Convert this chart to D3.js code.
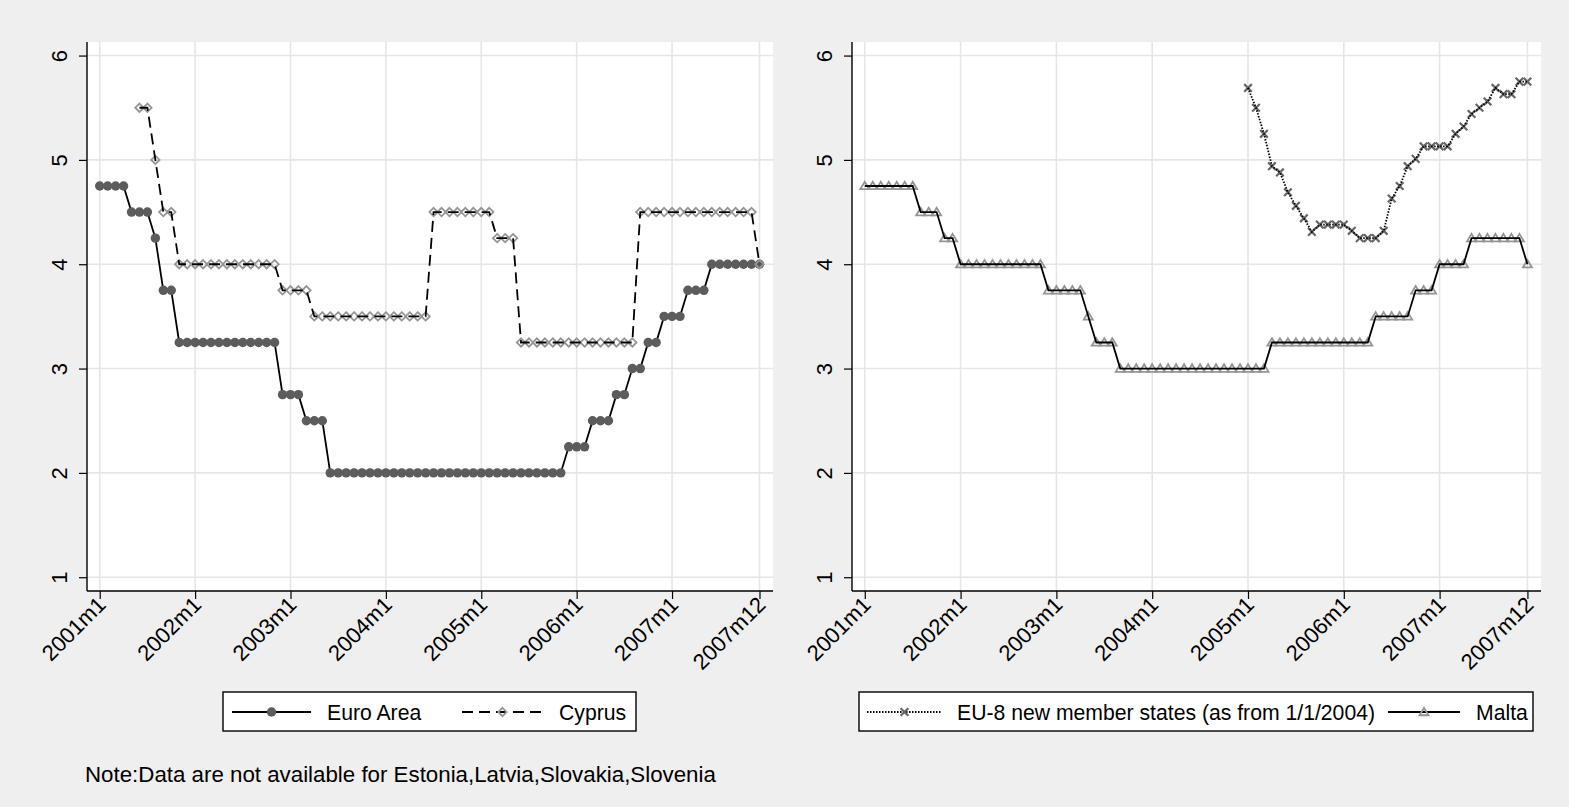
<!DOCTYPE html>
<html><head><meta charset="utf-8">
<script src="https://cdn.jsdelivr.net/npm/d3@7"></script>
<style>
html,body{margin:0;padding:0;background:#efefef;}
svg{display:block;font-family:"Liberation Sans",Arial,sans-serif;}
</style></head>
<body>
<svg id="chart" width="1569" height="807"></svg>
<script>
// ---- data (monthly, 2001m1 .. 2007m12, index 0..83) ----
const tickMonths = [0, 12, 24, 36, 48, 60, 72, 83];
const tickLabels = ["2001m1","2002m1","2003m1","2004m1","2005m1","2006m1","2007m1","2007m12"];
const yTicks = [1, 2, 3, 4, 5, 6];

const euroArea = [
  4.75,4.75,4.75,4.75,4.5,4.5,4.5,4.25,3.75,3.75,3.25,3.25,
  3.25,3.25,3.25,3.25,3.25,3.25,3.25,3.25,3.25,3.25,3.25,2.75,
  2.75,2.75,2.5,2.5,2.5,2,2,2,2,2,2,2,
  2,2,2,2,2,2,2,2,2,2,2,2,
  2,2,2,2,2,2,2,2,2,2,2,2.25,
  2.25,2.25,2.5,2.5,2.5,2.75,2.75,3,3,3.25,3.25,3.5,
  3.5,3.5,3.75,3.75,3.75,4,4,4,4,4,4,4
];
const cyprus = [
  null,null,null,null,null,5.5,5.5,5,4.5,4.5,4,4,
  4,4,4,4,4,4,4,4,4,4,4,3.75,
  3.75,3.75,3.75,3.5,3.5,3.5,3.5,3.5,3.5,3.5,3.5,3.5,
  3.5,3.5,3.5,3.5,3.5,3.5,4.5,4.5,4.5,4.5,4.5,4.5,
  4.5,4.5,4.25,4.25,4.25,3.25,3.25,3.25,3.25,3.25,3.25,3.25,
  3.25,3.25,3.25,3.25,3.25,3.25,3.25,3.25,4.5,4.5,4.5,4.5,
  4.5,4.5,4.5,4.5,4.5,4.5,4.5,4.5,4.5,4.5,4.5,4
];
const eu8 = [
  null,null,null,null,null,null,null,null,null,null,null,null,
  null,null,null,null,null,null,null,null,null,null,null,null,
  null,null,null,null,null,null,null,null,null,null,null,null,
  null,null,null,null,null,null,null,null,null,null,null,null,
  5.69,5.5,5.25,4.94,4.88,4.69,4.56,4.44,4.31,4.38,4.38,4.38,
  4.38,4.32,4.25,4.25,4.25,4.32,4.63,4.75,4.94,5.01,5.13,5.13,
  5.13,5.13,5.25,5.32,5.44,5.5,5.56,5.69,5.63,5.63,5.75,5.75
];
const malta = [
  4.75,4.75,4.75,4.75,4.75,4.75,4.75,4.5,4.5,4.5,4.25,4.25,
  4,4,4,4,4,4,4,4,4,4,4,3.75,
  3.75,3.75,3.75,3.75,3.5,3.25,3.25,3.25,3,3,3,3,
  3,3,3,3,3,3,3,3,3,3,3,3,
  3,3,3,3.25,3.25,3.25,3.25,3.25,3.25,3.25,3.25,3.25,
  3.25,3.25,3.25,3.25,3.5,3.5,3.5,3.5,3.5,3.75,3.75,3.75,
  4,4,4,4,4.25,4.25,4.25,4.25,4.25,4.25,4.25,4
];

const leftSeries = [
  {name:"Euro Area", values:euroArea, dash:null, marker:"circle"},
  {name:"Cyprus", values:cyprus, dash:"11,6", marker:"diamond"}
];
const rightSeries = [
  {name:"EU-8 new member states (as from 1/1/2004)", values:eu8, dash:"1.5,1.5", marker:"x"},
  {name:"Malta", values:malta, dash:null, marker:"triangle"}
];
const noteText = "Note:Data are not available for Estonia,Latvia,Slovakia,Slovenia";

// ---- drawing ----
const svg = d3.select("#chart");
svg.append("rect").attr("width",1569).attr("height",807).attr("fill","#efefef");

const TICKFONT = 22, LEGFONT = 21.2, NOTEFONT = 22.3;
const plotTop = 42, plotBottom = 591;
const y = d3.scaleLinear().domain([0.868, 6.13]).range([plotBottom, plotTop]);

function marker(g, type, cx, cy) {
  if (type === "circle") {
    g.append("circle").attr("cx",cx).attr("cy",cy).attr("r",4.7).attr("fill","#5c5c5c");
  } else if (type === "diamond") {
    const s = 4.2;
    g.append("path").attr("d",`M${cx},${cy-s}L${cx+s},${cy}L${cx},${cy+s}L${cx-s},${cy}Z`)
      .attr("fill","none").attr("stroke","#959595").attr("stroke-width",1.8);
  } else if (type === "triangle") {
    const s = 4.3;
    g.append("path").attr("d",`M${cx},${cy-s}L${cx+s*1.05},${cy+s*0.75}L${cx-s*1.05},${cy+s*0.75}Z`)
      .attr("fill","none").attr("stroke","#959595").attr("stroke-width",1.8);
  } else if (type === "x") {
    const s = 3.8;
    g.append("path").attr("d",`M${cx-s},${cy-s}L${cx+s},${cy+s}M${cx-s},${cy+s}L${cx+s},${cy-s}`)
      .attr("fill","none").attr("stroke","#666666").attr("stroke-width",2.2);
  }
}

function panel(left, right, series) {
  const x = d3.scaleLinear().domain([-1.6, 84.7]).range([left, right]);
  const g = svg.append("g");
  g.append("rect").attr("x",left).attr("y",plotTop).attr("width",right-left).attr("height",plotBottom-plotTop).attr("fill","#ffffff");
  // grid
  g.selectAll(".hg").data(yTicks).join("line")
    .attr("x1",left).attr("x2",right).attr("y1",d=>y(d)).attr("y2",d=>y(d))
    .attr("stroke","#e6e6e6").attr("stroke-width",1.6);
  g.selectAll(".vg").data(tickMonths).join("line")
    .attr("y1",plotTop).attr("y2",plotBottom).attr("x1",d=>x(d)).attr("x2",d=>x(d))
    .attr("stroke","#e6e6e6").attr("stroke-width",1.6);

  // axes
  const yAxis = d3.axisLeft(y).tickValues(yTicks).tickSize(8).tickFormat(d3.format("d"));
  const ya = g.append("g").attr("transform",`translate(${left},0)`).call(yAxis);
  ya.select(".domain").attr("stroke","#000").attr("stroke-width",1.4).attr("d",`M0,${plotTop}V${plotBottom}`);
  ya.selectAll(".tick line").attr("stroke","#000").attr("stroke-width",1.2);
  ya.selectAll(".tick text").attr("font-size",TICKFONT).attr("fill","#000")
    .attr("x",0).attr("dy",0).attr("text-anchor","middle")
    .attr("transform","translate(-26,0) rotate(-90)").attr("dominant-baseline","middle");

  const xAxis = d3.axisBottom(x).tickValues(tickMonths).tickSize(8).tickFormat((d,i)=>tickLabels[i]);
  const xa = g.append("g").attr("transform",`translate(0,${plotBottom})`).call(xAxis);
  xa.select(".domain").attr("stroke","#000").attr("stroke-width",1.4).attr("d",`M${left},0H${right}`);
  xa.selectAll(".tick line").attr("stroke","#000").attr("stroke-width",1.2);
  xa.selectAll(".tick text").attr("font-size",TICKFONT).attr("fill","#000")
    .attr("y",0).attr("dy",0).attr("text-anchor","end")
    .attr("transform","translate(7,15) rotate(-45)");

  // series
  series.forEach(s => {
    const pts = s.values.map((v,i)=>({i,v}));
    const line = d3.line().defined(d=>d.v!=null).x(d=>x(d.i)).y(d=>y(d.v));
    const sg = g.append("g");
    const markersG = sg.append("g");
    const path = sg.append("path").datum(pts).attr("d",line).attr("fill","none")
      .attr("stroke","#000").attr("stroke-width",1.8);
    if (s.dash) path.attr("stroke-dasharray",s.dash);
    if (s.marker === "circle") path.lower();
    pts.filter(d=>d.v!=null).forEach(d => marker(markersG, s.marker, x(d.i), y(d.v)));
  });
  return x;
}

panel(87, 773, leftSeries);
panel(852, 1541, rightSeries);

// legends
function legend(x0, x1, series, layout) {
  const g = svg.append("g");
  g.append("rect").attr("x",x0).attr("y",692).attr("width",x1-x0).attr("height",39)
    .attr("fill","#fff").attr("stroke","#000").attr("stroke-width",1.4);
  series.forEach((s,k) => {
    const L = layout[k];
    const ln = g.append("line").attr("x1",L.a).attr("x2",L.b).attr("y1",712).attr("y2",712)
      .attr("stroke","#000").attr("stroke-width",1.8);
    if (s.dash) ln.attr("stroke-dasharray", s.dash);
    marker(g, s.marker, (L.a+L.b)/2, 712);
    g.append("text").attr("x",L.t).attr("y",719.5).attr("font-size",LEGFONT).attr("fill","#000").text(s.name);
  });
}
legend(223, 636, leftSeries, [{a:232,b:311,t:327},{a:462,b:543,t:559}]);
legend(859, 1533, rightSeries, [{a:867,b:942,t:957},{a:1388,b:1460,t:1476}]);

svg.append("text").attr("x",85).attr("y",782).attr("font-size",NOTEFONT).attr("fill","#000").text(noteText);
</script>
</body></html>
